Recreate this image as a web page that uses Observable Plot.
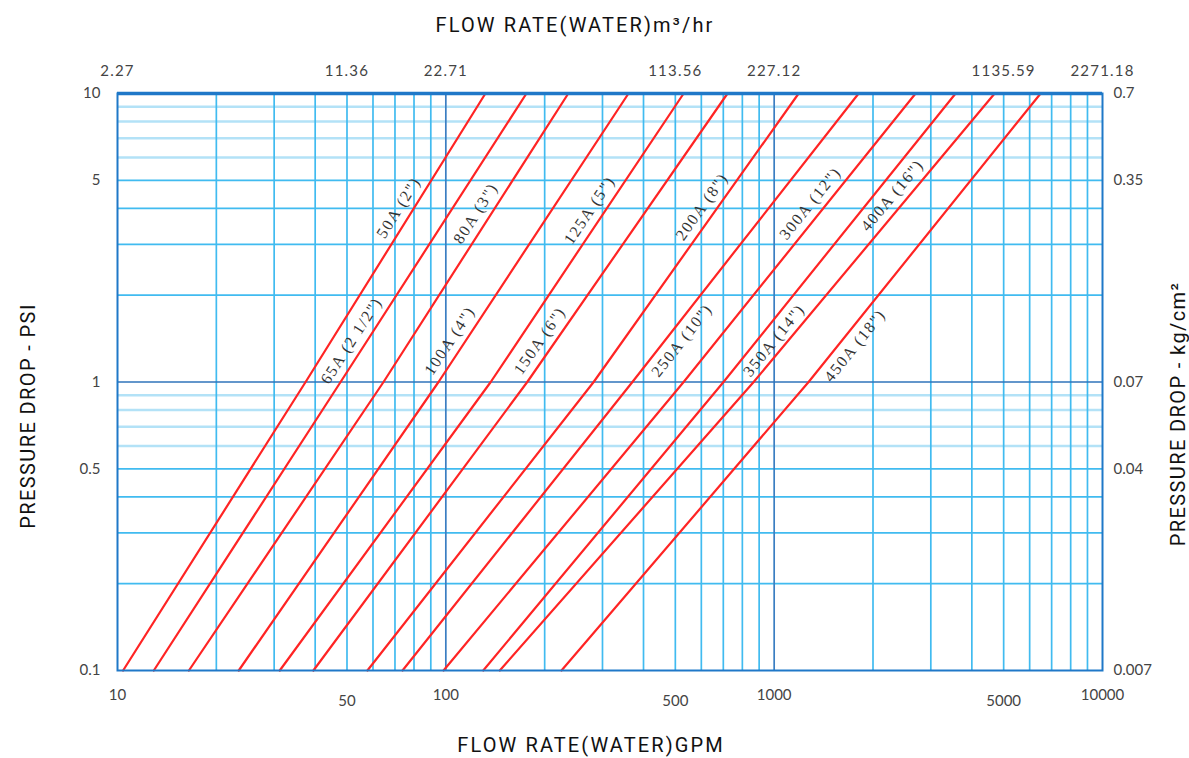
<!DOCTYPE html>
<html><head><meta charset="utf-8">
<script src="https://cdn.jsdelivr.net/npm/d3@7"></script>
<script src="https://cdn.jsdelivr.net/npm/@observablehq/plot@0.6"></script>
<style>
html,body{margin:0;padding:0;background:#fff;overflow:hidden;}
</style></head><body><div id="chart"></div>
<script>
// ---- data ----
const pipes = ["50A (2\")","65A (2 1/2\")","80A (3\")","100A (4\")","125A (5\")","150A (6\")","200A (8\")","250A (10\")","300A (12\")","350A (14\")","400A (16\")","450A (18\")"];
const psiLevels = [0.1, 1, 10];
const gpmAt01psi = [10.4, 12.9, 16.5, 23.4, 31.2, 39.5, 57.7, 73.8, 98.4, 130, 146, 225];
const gpmAt1psi  = [37.4, 47.8, 64.6, 95.0, 137, 177, 282, 370, 530, 701, 866, 1273];
const gpmAt10psi = [132, 176, 236, 360, 530, 721, 1187, 1808, 2696, 3569, 4693, 6479];
const labelPsi   = [3.79, 1.31, 3.62, 1.31, 3.71, 1.31, 3.82, 1.48, 3.92, 1.48, 4.18, 1.42];
const labelSide  = ["left","left","left","left","left","left","left","right","left","right","left","right"];

const gpmTicksMain = [10, 100, 1000, 10000];
const gpmTicksMid = [50, 500, 5000];
const gpmTicks = [10, 50, 100, 500, 1000, 5000, 10000];
const m3hrTicks = ["2.27", "11.36", "22.71", "113.56", "227.12", "1135.59", "2271.18"];
const psiTicks = [0.1, 0.5, 1, 5, 10];
const kgTicks = ["0.007", "0.04", "0.07", "0.35", "0.7"];

const minorGpm = [20,30,40,50,60,70,80,90,200,300,400,500,600,700,800,900,2000,3000,4000,5000,6000,7000,8000,9000];
const majorGpm = [100, 1000];
const strongPsi = [0.2,0.3,0.4,0.5,2,3,4,5];
const palePsi = [0.6,0.7,0.8,0.9,6,7,8,9];

const titleTop = "FLOW RATE(WATER)m³/hr";
const titleBottom = "FLOW RATE(WATER)GPM";
const titleLeft = "PRESSURE DROP - PSI";
const titleRight = "PRESSURE DROP - kg/cm²";

// ---- layout ----
const W = 1189, H = 758, mL = 117, mR = 87, mT = 93, mB = 88;
const pxDecX = (W - mL - mR) / 3, pxDecY = (H - mT - mB) / 2;

const lineData = pipes.flatMap((p, i) =>
  [gpmAt01psi[i], gpmAt1psi[i], gpmAt10psi[i]].map((q, j) => ({pipe: p, gpm: q, psi: psiLevels[j]})));

const labels = pipes.map((p, i) => {
  const P = labelPsi[i];
  const pts = [gpmAt01psi[i], gpmAt1psi[i], gpmAt10psi[i]];
  const s = P >= 1 ? 1 : 0;
  const lp0 = Math.log10(psiLevels[s]), lp1 = Math.log10(psiLevels[s + 1]);
  const lq0 = Math.log10(pts[s]), lq1 = Math.log10(pts[s + 1]);
  const t = (Math.log10(P) - lp0) / (lp1 - lp0);
  const q = 10 ** (lq0 + t * (lq1 - lq0));
  const ang = -Math.atan2((lp1 - lp0) * pxDecY, (lq1 - lq0) * pxDecX) * 180 / Math.PI;
  return {pipe: p, gpm: q, psi: P, angle: ang, side: labelSide[i]};
});

const tickFont = "Lato, 'Open Sans', sans-serif";
const titleFont = "Roboto, 'Noto Sans', sans-serif";
const serifFont = "'Liberation Serif', 'DejaVu Serif', serif";
const frameBlue = "#1f78c8";
const tickFill = "#444";

const labelOpts = {x: "gpm", y: "psi", text: "pipe", rotate: "angle",
  fontFamily: serifFont, fontSize: 16, fill: "#333", textAnchor: "middle", lineAnchor: "middle"};

const chart = Plot.plot({
  width: W, height: H,
  marginLeft: mL, marginRight: mR, marginTop: mT, marginBottom: mB,
  style: {background: "#fff", overflow: "visible"},
  x: {type: "log", domain: [10, 10000], axis: null},
  y: {type: "log", domain: [0.1, 10], axis: null},
  marks: [
    Plot.ruleY(palePsi, {stroke: "#b3e2f7", strokeWidth: 2.5}),
    Plot.ruleY(strongPsi, {stroke: "#40bbf0", strokeWidth: 1.7}),
    Plot.ruleX(minorGpm, {stroke: "#40bbf0", strokeWidth: 1.7}),
    Plot.ruleX(majorGpm, {stroke: "#3b7ec2", strokeWidth: 1.7}),
    Plot.ruleY([1], {stroke: "#2f73ba", strokeWidth: 1.7}),
    Plot.line(lineData, {x: "gpm", y: "psi", z: "pipe", stroke: "#ff2424", strokeWidth: 2.2}),
    Plot.text(labels.filter(d => d.side === "left"), {...labelOpts, dx: -11, dy: -7.5}),
    Plot.text(labels.filter(d => d.side === "right"), {...labelOpts, dx: 11, dy: 7.5}),
    Plot.frame({stroke: frameBlue, strokeWidth: 2}),
    Plot.ruleY([10], {stroke: frameBlue, strokeWidth: 3.5}),
    // tick labels
    Plot.text(gpmTicksMain, {x: d => d, text: d => String(d), frameAnchor: "bottom", dy: 25,
      textAnchor: "middle", lineAnchor: "middle", fontSize: 15, fontFamily: tickFont, fill: tickFill}),
    Plot.text(gpmTicksMid, {x: d => d, text: d => String(d), frameAnchor: "bottom", dy: 31,
      textAnchor: "middle", lineAnchor: "middle", fontSize: 15, fontFamily: tickFont, fill: tickFill}),
    Plot.text(gpmTicks, {x: d => d, text: (d, i) => m3hrTicks[i], frameAnchor: "top", dy: -22,
      textAnchor: "middle", lineAnchor: "middle", fontSize: 15, fontFamily: tickFont, fill: tickFill}),
    Plot.text(psiTicks, {y: d => d, text: d => String(d), frameAnchor: "left", dx: -17,
      textAnchor: "end", lineAnchor: "middle", fontSize: 15, fontFamily: tickFont, fill: tickFill}),
    Plot.text(psiTicks, {y: d => d, text: (d, i) => kgTicks[i], frameAnchor: "right", dx: 11,
      textAnchor: "start", lineAnchor: "middle", fontSize: 15, fontFamily: tickFont, fill: tickFill}),
    // axis titles
    Plot.text([titleTop], {frameAnchor: "top", dx: -35, dy: -68,
      textAnchor: "middle", lineAnchor: "middle", fontSize: 20, fontFamily: titleFont, fill: "#111"}),
    Plot.text([titleBottom], {frameAnchor: "bottom", dx: -19, dy: 75,
      textAnchor: "middle", lineAnchor: "middle", fontSize: 20, fontFamily: titleFont, fill: "#111"}),
    Plot.text([titleLeft], {frameAnchor: "left", dx: -89, dy: 34, rotate: -90,
      textAnchor: "middle", lineAnchor: "middle", fontSize: 20, fontFamily: titleFont, fill: "#111"}),
    Plot.text([titleRight], {frameAnchor: "right", dx: 76, dy: 32, rotate: -90,
      textAnchor: "middle", lineAnchor: "middle", fontSize: 20, fontFamily: titleFont, fill: "#111"})
  ]
});
document.getElementById("chart").appendChild(chart);

// letter spacing (styling only)
d3.select(chart).selectAll("text").each(function () {
  const t = this.textContent;
  if (pipes.includes(t)) this.style.letterSpacing = "1.6px";
  else if (m3hrTicks.includes(t)) this.style.letterSpacing = "1.2px";
  else if (t === titleTop || t === titleBottom) this.style.letterSpacing = "2.1px";
  else if (t === titleLeft || t === titleRight) this.style.letterSpacing = "1.4px";
});
</script>
</body></html>
